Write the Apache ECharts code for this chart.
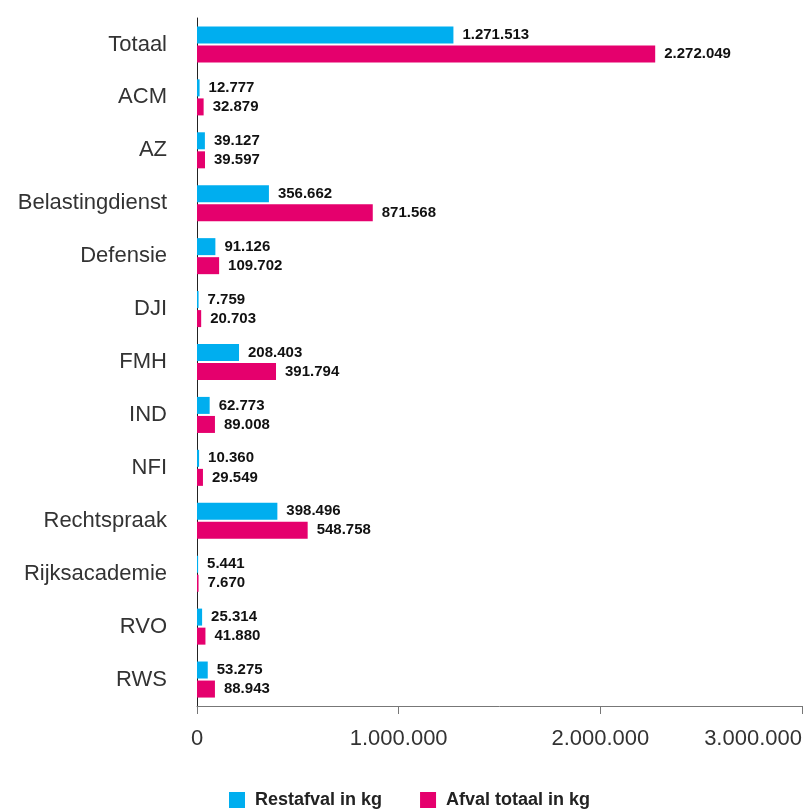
<!DOCTYPE html>
<html><head><meta charset="utf-8">
<script src="https://cdn.jsdelivr.net/npm/echarts@6/dist/echarts.min.js"></script>
<style>html,body{margin:0;padding:0;background:#fff}#c{width:806px;height:810px}</style>
</head><body><div id="c"></div>
<script>
const categories = ['Totaal','ACM','AZ','Belastingdienst','Defensie','DJI','FMH','IND','NFI','Rechtspraak','Rijksacademie','RVO','RWS'];
const restafval = [1271513,12777,39127,356662,91126,7759,208403,62773,10360,398496,5441,25314,53275];
const afvalTotaal = [2272049,32879,39597,871568,109702,20703,391794,89008,29549,548758,7670,41880,88943];
const xTicks = [0,1000000,2000000,3000000];

function fmt(v){return String(Math.round(v)).replace(/\B(?=(\d{3})+(?!\d))/g,'.');}
const font = 'Liberation Sans';
const chart = echarts.init(document.getElementById('c'));
const lbl = {show:true,position:'right',distance:9,color:'#111',fontFamily:font,fontWeight:'bold',fontSize:15,formatter:p=>fmt(p.value)};
chart.setOption({
  animation:false,
  textStyle:{fontFamily:font},
  grid:{left:197,right:4,top:18,bottom:104,containLabel:false},
  legend:{top:791,left:229,padding:0,itemWidth:16,itemHeight:16,itemGap:38,icon:'rect',
    textStyle:{fontFamily:font,fontSize:18,fontWeight:'bold',color:'#222',padding:[0,0,0,5]},
    data:['Restafval in kg','Afval totaal in kg']},
  xAxis:{type:'value',min:0,max:xTicks[xTicks.length-1],interval:1000000,
    axisLine:{show:true,lineStyle:{color:'#777',width:1}},
    axisTick:{show:true,length:8,lineStyle:{color:'#777'}},
    splitLine:{show:false},
    axisLabel:{color:'#333',fontSize:22,fontFamily:font,margin:22,alignMaxLabel:'right',formatter:v=>fmt(v)}},
  yAxis:{type:'category',data:categories,inverse:true,
    axisLine:{show:true,lineStyle:{color:'#222',width:1}},
    axisTick:{show:false},
    axisLabel:{color:'#333',fontSize:22,fontFamily:font,margin:30,padding:[4,0,0,0]}},
  series:[
    {name:'Restafval in kg',type:'bar',data:restafval,barWidth:17,barGap:'12%',itemStyle:{color:'#00AEEF'},label:lbl},
    {name:'Afval totaal in kg',type:'bar',data:afvalTotaal,barWidth:17,itemStyle:{color:'#E5006D'},label:lbl}
  ]
});
</script></body></html>
